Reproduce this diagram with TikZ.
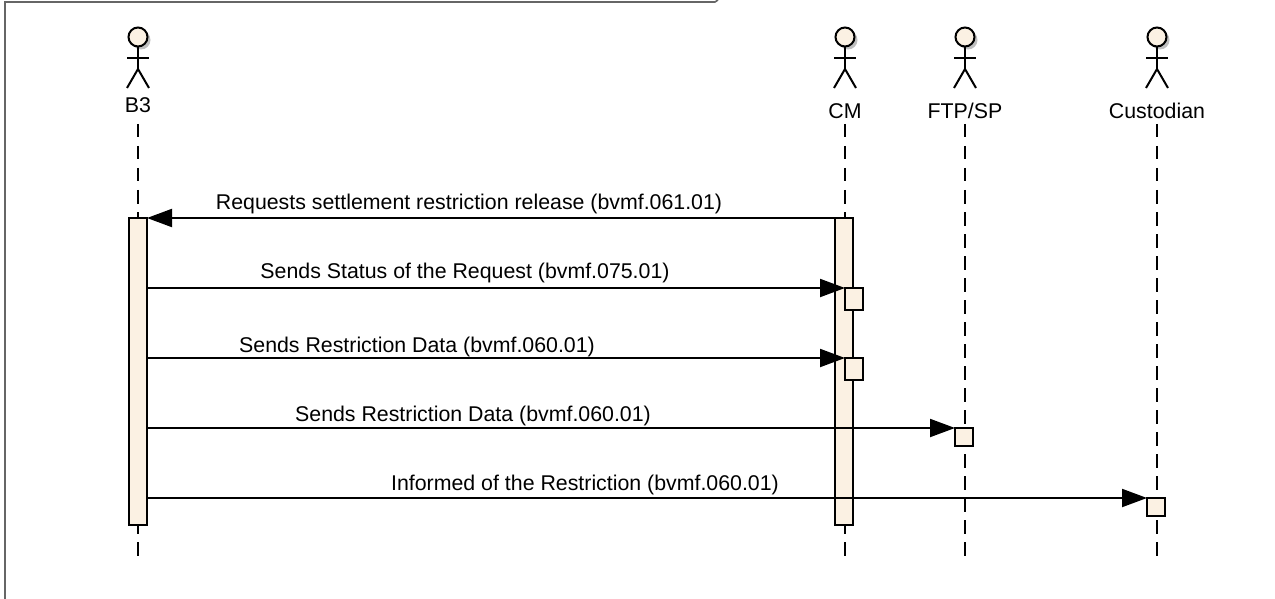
\documentclass[tikz,border=0pt]{standalone}
\usepackage{fontspec}
\setmainfont{Liberation Sans}
\usetikzlibrary{arrows.meta}
\definecolor{actfill}{HTML}{FBF1E3}
\definecolor{framegrey}{HTML}{666666}
\tikzset{
  lifeline/.style={draw=black,line width=2pt,dash pattern=on 13.5pt off 8.5pt},
  limb/.style={draw=black,line width=2pt},
  activation/.style={draw=black,line width=2pt,fill=actfill,inner sep=0pt,outer sep=0pt,minimum width=18pt},
  selfbox/.style={activation,minimum width=18pt},
  msg/.style={draw=black,line width=2pt,-{Triangle[length=25pt,width=18pt]}},
  msglabel/.style={inner sep=0pt,anchor=base,font=\fontsize{21.33}{24}\selectfont},
  actorlabel/.style={inner sep=0pt,anchor=base,font=\fontsize{21.33}{24}\selectfont},
  head/.style={circle,draw=black,line width=2pt,fill=actfill,minimum size=19pt,inner sep=0pt,outer sep=0pt},
  headshadow/.style={circle,fill=black!25,minimum size=19pt,inner sep=0pt,outer sep=0pt}
}
\newcommand{\stickman}[2]{%
  \node[headshadow] (#1shadow) at (#2+3,40) {};
  \node[head] (#1head) at (#2,37) {};
  \coordinate (#1hip) at (#2,69);
  \coordinate (#1armL) at (#2-11,58);
  \coordinate (#1armR) at (#2+11,58);
  \coordinate (#1legL) at (#2-11,88);
  \coordinate (#1legR) at (#2+11,88);
  \draw[limb] (#1head.south) -- (#1hip);
  \draw[limb] (#1armL) -- (#1armR);
  \draw[limb] (#1legL) -- (#1hip) -- (#1legR);
}
\begin{document}
\begin{tikzpicture}[x=1pt,y=-1pt]
\useasboundingbox (0,0) rectangle (1275,599);
% frame
\coordinate (frameBL) at (5,599);
\coordinate (frameTL) at (5,2);
\coordinate (frameTR) at (715,2);
\coordinate (frameEnd) at (718,0);
\draw[framegrey,line width=1.6pt] (frameBL) -- (frameTL) -- (frameTR) -- (frameEnd);
% actors
\stickman{b}{138}
\stickman{c}{845}
\stickman{f}{965}
\stickman{u}{1157}
\node[actorlabel] (bl) at (138,113) {B3};
\node[actorlabel] (cl) at (845,119) {CM};
\node[actorlabel] (fl) at (965,119) {FTP/SP};
\node[actorlabel] (ul) at (1157,119) {Custodian};
% lifelines
\coordinate (bt) at (138,124); \coordinate (bb) at (138,556);
\coordinate (ct) at (845,124); \coordinate (cb) at (845,556);
\coordinate (ft) at (965,124); \coordinate (fb) at (965,556);
\coordinate (ut) at (1157,124); \coordinate (ub) at (1157,556);
\draw[lifeline] (bt) -- (bb);
\draw[lifeline] (ct) -- (cb);
\draw[lifeline] (ft) -- (fb);
\draw[lifeline] (ut) -- (ub);
% activations
\node[activation,minimum height=307pt] (ab) at (138,371.5) {};
\node[activation,minimum height=307pt] (ac) at (844,371.5) {};
\node[selfbox,minimum height=22pt] (s1) at (854,299) {};
\node[selfbox,minimum height=22pt] (s2) at (854,369) {};
\node[selfbox,minimum height=18pt] (s3) at (964,437) {};
\node[selfbox,minimum height=18pt] (s4) at (1156,507) {};
% messages
\draw[msg] (ac.north west) -- (ab.north east);
\draw[msg] (ab.east |- s1.north west) -- (s1.north west);
\draw[msg] (ab.east |- s2.north west) -- (s2.north west);
\draw[msg] (ab.east |- s3.north west) -- (s3.north west);
\draw[msg] (ab.east |- s4.north west) -- (s4.north west);
% labels
\node[msglabel] (t1) at (469,209.5) {Requests settlement restriction release (bvmf.061.01)};
\node[msglabel] (t2) at (465,278.5) {Sends Status of the Request (bvmf.075.01)};
\node[msglabel] (t3) at (417,352) {Sends Restriction Data (bvmf.060.01)};
\node[msglabel] (t4) at (473,421.5) {Sends Restriction Data (bvmf.060.01)};
\node[msglabel] (t5) at (585,490.5) {Informed of the Restriction (bvmf.060.01)};
\end{tikzpicture}
\end{document}
